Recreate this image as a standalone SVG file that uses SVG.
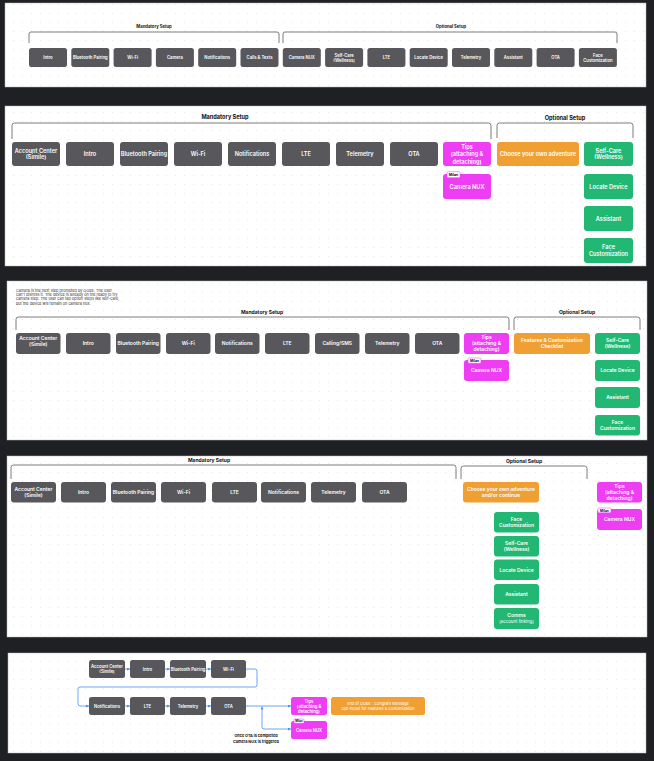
<svg xmlns="http://www.w3.org/2000/svg" width="654" height="761" viewBox="0 0 654 761">
<style>
.panel{fill:#fff;stroke:#b8b8b8;stroke-width:0.5}
.g{fill:#58585c}
.p{fill:#ee3df2}
.o{fill:#f0a033}
.gr{fill:#22b874}
text{font-family:Inter,"Liberation Sans",sans-serif}
.t{fill:#fff;text-anchor:middle;font-weight:600}
.h{fill:#111;text-anchor:middle;font-weight:700}
.br{fill:none;stroke:#5a5a5a;stroke-width:0.8}
.tag{fill:#fff;stroke:#ee3df2;stroke-width:0.5}
.tagt{fill:#111;font-weight:700;text-anchor:middle}
.s1{font-size:4.2px}.s2{font-size:5.6px}.s3{font-size:5px}.s4{font-size:5px}.s5{font-size:4.2px}
.c{fill:none;stroke:#4a90f0;stroke-width:0.8}
</style>
<defs>
<pattern id="dots" width="9" height="9" patternUnits="userSpaceOnUse"><circle cx="4.5" cy="4.5" r="0.45" fill="#cdcdcd"/></pattern>
<marker id="ar" viewBox="0 0 6 6" refX="6" refY="3" markerWidth="3" markerHeight="3" markerUnits="userSpaceOnUse" orient="auto-start-reverse"><path d="M0,0 L6,3 L0,6 Z" fill="#4a90f0"/></marker>
</defs>
<rect width="654" height="761" fill="#1f2024"/>
<g id="panels">
<rect class="panel" x="5" y="3" width="641" height="84"/><rect x="5" y="3" width="641" height="84" fill="url(#dots)"/>
<rect class="panel" x="5" y="106" width="641" height="160"/><rect x="5" y="106" width="641" height="160" fill="url(#dots)"/>
<rect class="panel" x="7" y="281" width="640" height="159"/><rect x="7" y="281" width="640" height="159" fill="url(#dots)"/>
<rect class="panel" x="7" y="456" width="640" height="181"/><rect x="7" y="456" width="640" height="181" fill="url(#dots)"/>
<rect class="panel" x="8" y="653" width="638" height="100"/><rect x="8" y="653" width="638" height="100" fill="url(#dots)"/>
</g>

<!-- Panel 1 -->
<g id="p1-brackets">
<path class="br" d="M29,43 V34 Q29,32 31,32 H277 Q279,32 279,34 V43"/>
<path class="br" d="M283,43 V34 Q283,32 285,32 H615 Q617,32 617,34 V43"/>
<text class="h s1" x="154" y="27.5">Mandatory Setup</text>
<text class="h s1" x="451" y="27.5">Optional Setup</text>
</g>
<g id="p1-intro"><rect class="g" x="29" y="48" width="38" height="19" rx="2.5"/><text class="t s1" x="48" y="59">Intro</text></g>
<g id="p1-bt"><rect class="g" x="71.3" y="48" width="38" height="19" rx="2.5"/><text class="t s1" x="90.3" y="59">Bluetooth Pairing</text></g>
<g id="p1-wifi"><rect class="g" x="113.6" y="48" width="38" height="19" rx="2.5"/><text class="t s1" x="132.6" y="59">Wi-Fi</text></g>
<g id="p1-camera"><rect class="g" x="155.9" y="48" width="38" height="19" rx="2.5"/><text class="t s1" x="174.9" y="59">Camera</text></g>
<g id="p1-notif"><rect class="g" x="198.2" y="48" width="38" height="19" rx="2.5"/><text class="t s1" x="217.2" y="59">Notifications</text></g>
<g id="p1-calls"><rect class="g" x="240.5" y="48" width="38" height="19" rx="2.5"/><text class="t s1" x="259.5" y="59">Calls &amp; Texts</text></g>
<g id="p1-camnux"><rect class="g" x="282.8" y="48" width="38" height="19" rx="2.5"/><text class="t s1" x="301.8" y="59">Camera NUX</text></g>
<g id="p1-selfcare"><rect class="g" x="325.1" y="48" width="38" height="19" rx="2.5"/><text class="t s1" x="344.1" y="56.5">Self-Care</text><text class="t s1" x="344.1" y="61.5">(Wellness)</text></g>
<g id="p1-lte"><rect class="g" x="367.4" y="48" width="38" height="19" rx="2.5"/><text class="t s1" x="386.4" y="59">LTE</text></g>
<g id="p1-locate"><rect class="g" x="409.7" y="48" width="38" height="19" rx="2.5"/><text class="t s1" x="428.7" y="59">Locate Device</text></g>
<g id="p1-telemetry"><rect class="g" x="452" y="48" width="38" height="19" rx="2.5"/><text class="t s1" x="471" y="59">Telemetry</text></g>
<g id="p1-assistant"><rect class="g" x="494.3" y="48" width="38" height="19" rx="2.5"/><text class="t s1" x="513.3" y="59">Assistant</text></g>
<g id="p1-ota"><rect class="g" x="536.6" y="48" width="38" height="19" rx="2.5"/><text class="t s1" x="555.6" y="59">OTA</text></g>
<g id="p1-face"><rect class="g" x="578.9" y="48" width="38" height="19" rx="2.5"/><text class="t s1" x="597.9" y="56.5">Face</text><text class="t s1" x="597.9" y="61.5">Customization</text></g>

<!-- Panel 2 -->
<g id="p2-brackets">
<path class="br" d="M12,139 V125.5 Q12,123 14.5,123 H488.5 Q491,123 491,125.5 V139"/>
<path class="br" d="M497,138 V125.5 Q497,123 499.5,123 H630.5 Q633,123 633,125.5 V138"/>
<text class="h s2" x="225" y="119">Mandatory Setup</text>
<text class="h s2" x="565" y="119.5">Optional Setup</text>
</g>
<g id="p2-account"><rect class="g" x="12" y="142" width="48" height="24" rx="3"/><text class="t s2" x="36" y="152.7">Account Center</text><text class="t s2" x="36" y="159.3">(Simile)</text></g>
<g id="p2-intro"><rect class="g" x="66" y="142" width="48" height="24" rx="3"/><text class="t s2" x="90" y="156">Intro</text></g>
<g id="p2-bt"><rect class="g" x="120" y="142" width="48" height="24" rx="3"/><text class="t s2" x="144" y="156">Bluetooth Pairing</text></g>
<g id="p2-wifi"><rect class="g" x="174" y="142" width="48" height="24" rx="3"/><text class="t s2" x="198" y="156">Wi-Fi</text></g>
<g id="p2-notif"><rect class="g" x="228" y="142" width="48" height="24" rx="3"/><text class="t s2" x="252" y="156">Notifications</text></g>
<g id="p2-lte"><rect class="g" x="282" y="142" width="48" height="24" rx="3"/><text class="t s2" x="306" y="156">LTE</text></g>
<g id="p2-telemetry"><rect class="g" x="336" y="142" width="48" height="24" rx="3"/><text class="t s2" x="360" y="156">Telemetry</text></g>
<g id="p2-ota"><rect class="g" x="390" y="142" width="48" height="24" rx="3"/><text class="t s2" x="414" y="156">OTA</text></g>
<g id="p2-tips"><rect class="p" x="443" y="142" width="48" height="24" rx="3"/><text class="t s2" x="467" y="149.3">Tips</text><text class="t s2" x="467" y="156.3">(attaching &amp;</text><text class="t s2" x="467" y="163.5">detaching)</text></g>
<g id="p2-camnux"><rect class="p" x="443" y="174" width="48" height="25" rx="3"/><text class="t s2" x="467" y="188.5">Camera NUX</text><rect class="tag" x="447" y="171.7" width="13" height="6" rx="1"/><text class="tagt" style="font-size:3.6px" x="453.5" y="176">Milan</text></g>
<g id="p2-choose"><rect class="o" x="497" y="142" width="82" height="24" rx="3"/><text class="t s2" x="538" y="156">Choose your own adventure</text></g>
<g id="p2-selfcare"><rect class="gr" x="584" y="142" width="49" height="24" rx="3"/><text class="t s2" x="608.5" y="152.7">Self-Care</text><text class="t s2" x="608.5" y="159.3">(Wellness)</text></g>
<g id="p2-locate"><rect class="gr" x="584" y="174" width="49" height="25" rx="3"/><text class="t s2" x="608.5" y="188.5">Locate Device</text></g>
<g id="p2-assistant"><rect class="gr" x="584" y="206" width="49" height="25" rx="3"/><text class="t s2" x="608.5" y="220.5">Assistant</text></g>
<g id="p2-face"><rect class="gr" x="584" y="238" width="49" height="25" rx="3"/><text class="t s2" x="608.5" y="249.2">Face</text><text class="t s2" x="608.5" y="255.8">Customization</text></g>

<!-- Panel 3 -->
<g id="p3-note" style="font-size:3.8px;fill:#333">
<text x="16" y="291.5">Camera is the next step prompted by OOBE. The user</text>
<text x="16" y="295.9">can't dismiss it. The device is already on the ready to try</text>
<text x="16" y="300.3">camera step. The user can tap option steps like self-care,</text>
<text x="16" y="304.7">but the device will remain on camera nux.</text>
</g>
<g id="p3-brackets">
<path class="br" d="M16,330 V319.5 Q16,317 18.5,317 H506.5 Q509,317 509,319.5 V330"/>
<path class="br" d="M514,330 V319.5 Q514,317 516.5,317 H637.5 Q640,317 640,319.5 V330"/>
<text class="h s3" x="262" y="313.7">Mandatory Setup</text>
<text class="h s3" x="577" y="313.7">Optional Setup</text>
</g>
<g id="p3-account"><rect class="g" x="16" y="333" width="44.5" height="21" rx="3"/><text class="t s3" x="38.25" y="340.3">Account Center</text><text class="t s3" x="38.25" y="346.3">(Simile)</text></g>
<g id="p3-intro"><rect class="g" x="66" y="333" width="44.5" height="21" rx="3"/><text class="t s3" x="88.25" y="345.3">Intro</text></g>
<g id="p3-bt"><rect class="g" x="116" y="333" width="44.5" height="21" rx="3"/><text class="t s3" x="138.25" y="345.3">Bluetooth Pairing</text></g>
<g id="p3-wifi"><rect class="g" x="166" y="333" width="44.5" height="21" rx="3"/><text class="t s3" x="188.25" y="345.3">Wi-Fi</text></g>
<g id="p3-notif"><rect class="g" x="215" y="333" width="44.5" height="21" rx="3"/><text class="t s3" x="237.25" y="345.3">Notifications</text></g>
<g id="p3-lte"><rect class="g" x="265" y="333" width="44.5" height="21" rx="3"/><text class="t s3" x="287.25" y="345.3">LTE</text></g>
<g id="p3-calling"><rect class="g" x="315" y="333" width="44.5" height="21" rx="3"/><text class="t s3" x="337.25" y="345.3">Calling/SMS</text></g>
<g id="p3-telemetry"><rect class="g" x="365" y="333" width="44.5" height="21" rx="3"/><text class="t s3" x="387.25" y="345.3">Telemetry</text></g>
<g id="p3-ota"><rect class="g" x="415" y="333" width="44.5" height="21" rx="3"/><text class="t s3" x="437.25" y="345.3">OTA</text></g>
<g id="p3-tips"><rect class="p" x="464" y="333" width="45" height="21" rx="3"/><text class="t s3" x="486.5" y="339.3">Tips</text><text class="t s3" x="486.5" y="345.3">(attaching &amp;</text><text class="t s3" x="486.5" y="351.3">detaching)</text></g>
<g id="p3-camnux"><rect class="p" x="464" y="360" width="45" height="21" rx="3"/><text class="t s3" x="486.5" y="372.3">Camera NUX</text><rect class="tag" x="468" y="358" width="13" height="5.2" rx="1"/><text class="tagt" style="font-size:3.4px" x="474.5" y="362">Milan</text></g>
<g id="p3-features"><rect class="o" x="514" y="333" width="76" height="21" rx="3"/><text class="t s3" x="552" y="342.3">Features &amp; Customization</text><text class="t s3" x="552" y="348.3">Checklist</text></g>
<g id="p3-selfcare"><rect class="gr" x="595" y="333" width="45" height="21" rx="3"/><text class="t s3" x="617.5" y="342.3">Self-Care</text><text class="t s3" x="617.5" y="348.3">(Wellness)</text></g>
<g id="p3-locate"><rect class="gr" x="595" y="360" width="45" height="21" rx="3"/><text class="t s3" x="617.5" y="372.3">Locate Device</text></g>
<g id="p3-assistant"><rect class="gr" x="595" y="387" width="45" height="21" rx="3"/><text class="t s3" x="617.5" y="399.3">Assistant</text></g>
<g id="p3-face"><rect class="gr" x="595" y="415" width="45" height="20.5" rx="3"/><text class="t s3" x="617.5" y="423.8">Face</text><text class="t s3" x="617.5" y="429.8">Customization</text></g>

<!-- Panel 4 -->
<g id="p4-brackets">
<path class="br" d="M11,479 V467.5 Q11,465 13.5,465 H453.5 Q456,465 456,467.5 V479"/>
<path class="br" d="M461,479 V468.5 Q461,466 463.5,466 H584.5 Q587,466 587,468.5 V479"/>
<text class="h s4" x="209" y="461.7">Mandatory Setup</text>
<text class="h s4" x="524" y="462.7">Optional Setup</text>
</g>
<g id="p4-account"><rect class="g" x="11" y="482" width="45" height="20.5" rx="3"/><text class="t s4" x="33.5" y="491">Account Center</text><text class="t s4" x="33.5" y="497">(Simile)</text></g>
<g id="p4-intro"><rect class="g" x="61" y="482" width="45" height="20.5" rx="3"/><text class="t s4" x="83.5" y="494">Intro</text></g>
<g id="p4-bt"><rect class="g" x="111" y="482" width="45" height="20.5" rx="3"/><text class="t s4" x="133.5" y="494">Bluetooth Pairing</text></g>
<g id="p4-wifi"><rect class="g" x="161" y="482" width="45" height="20.5" rx="3"/><text class="t s4" x="183.5" y="494">Wi-Fi</text></g>
<g id="p4-lte"><rect class="g" x="212" y="482" width="45" height="20.5" rx="3"/><text class="t s4" x="234.5" y="494">LTE</text></g>
<g id="p4-notif"><rect class="g" x="261" y="482" width="45" height="20.5" rx="3"/><text class="t s4" x="283.5" y="494">Notifications</text></g>
<g id="p4-telemetry"><rect class="g" x="311" y="482" width="45" height="20.5" rx="3"/><text class="t s4" x="333.5" y="494">Telemetry</text></g>
<g id="p4-ota"><rect class="g" x="362" y="482" width="45" height="20.5" rx="3"/><text class="t s4" x="384.5" y="494">OTA</text></g>
<g id="p4-choose"><rect class="o" x="463" y="482" width="76" height="20.5" rx="3"/><text class="t s4" x="501" y="491">Choose your own adventure</text><text class="t s4" x="501" y="497">and/or continue</text></g>
<g id="p4-tips"><rect class="p" x="597" y="482" width="45" height="20.5" rx="3"/><text class="t s4" x="619.5" y="488">Tips</text><text class="t s4" x="619.5" y="494">(attaching &amp;</text><text class="t s4" x="619.5" y="500">detaching)</text></g>
<g id="p4-camnux"><rect class="p" x="597" y="509" width="45" height="21" rx="3"/><text class="t s4" x="619.5" y="521.3">Camera NUX</text><rect class="tag" x="598" y="508" width="13" height="4.8" rx="1"/><text class="tagt" style="font-size:3.3px" x="604.5" y="511.7">Milan</text></g>
<g id="p4-face"><rect class="gr" x="494" y="512" width="45" height="20.5" rx="3"/><text class="t s4" x="516.5" y="521">Face</text><text class="t s4" x="516.5" y="527">Customization</text></g>
<g id="p4-selfcare"><rect class="gr" x="494" y="536" width="45" height="20.5" rx="3"/><text class="t s4" x="516.5" y="545">Self-Care</text><text class="t s4" x="516.5" y="551">(Wellness)</text></g>
<g id="p4-locate"><rect class="gr" x="494" y="559.5" width="45" height="20.5" rx="3"/><text class="t s4" x="516.5" y="571.5">Locate Device</text></g>
<g id="p4-assistant"><rect class="gr" x="494" y="584" width="45" height="20.5" rx="3"/><text class="t s4" x="516.5" y="596">Assistant</text></g>
<g id="p4-comms"><rect class="gr" x="494" y="608" width="45" height="21" rx="3"/><text class="t s4" x="516.5" y="617">Comms</text><text class="t" style="font-size:4.4px;font-weight:400" x="516.5" y="623">(account linking)</text></g>

<!-- Panel 5 -->
<g id="p5-connectors">
<line class="c" x1="125" y1="669" x2="130" y2="669" marker-end="url(#ar)"/>
<line class="c" x1="165" y1="669" x2="170" y2="669" marker-end="url(#ar)"/>
<line class="c" x1="206" y1="669" x2="211" y2="669" marker-end="url(#ar)"/>
<path class="c" d="M246,669 H255 Q257,669 257,671 V685 Q257,687 255,687 H80 Q78,687 78,689 V704 Q78,706 80,706 H89" marker-end="url(#ar)"/>
<line class="c" x1="125" y1="706" x2="130" y2="706" marker-end="url(#ar)"/>
<line class="c" x1="165" y1="706" x2="170" y2="706" marker-end="url(#ar)"/>
<line class="c" x1="206" y1="706" x2="211" y2="706" marker-end="url(#ar)"/>
<line class="c" x1="246" y1="706" x2="291" y2="706" marker-end="url(#ar)"/>
<path class="c" d="M262,706.5 V727 Q262,729 264,729 H291" marker-start="url(#ar)" marker-end="url(#ar)"/>
</g>
<g id="p5-account"><rect class="g" x="89" y="660" width="36" height="18" rx="2.5"/><text class="t s5" x="107" y="668">Account Center</text><text class="t s5" x="107" y="673">(Simile)</text></g>
<g id="p5-intro"><rect class="g" x="130" y="660" width="35" height="18" rx="2.5"/><text class="t s5" x="147.5" y="670.5">Intro</text></g>
<g id="p5-bt"><rect class="g" x="170" y="660" width="36" height="18" rx="2.5"/><text class="t s5" x="188" y="670.5">Bluetooth Pairing</text></g>
<g id="p5-wifi"><rect class="g" x="211" y="660" width="35" height="18" rx="2.5"/><text class="t s5" x="228.5" y="670.5">Wi-Fi</text></g>
<g id="p5-notif"><rect class="g" x="89" y="697" width="36" height="18" rx="2.5"/><text class="t s5" x="107" y="707.5">Notifications</text></g>
<g id="p5-lte"><rect class="g" x="130" y="697" width="35" height="18" rx="2.5"/><text class="t s5" x="147.5" y="707.5">LTE</text></g>
<g id="p5-telemetry"><rect class="g" x="170" y="697" width="36" height="18" rx="2.5"/><text class="t s5" x="188" y="707.5">Telemetry</text></g>
<g id="p5-ota"><rect class="g" x="211" y="697" width="35" height="18" rx="2.5"/><text class="t s5" x="228.5" y="707.5">OTA</text></g>
<g id="p5-tips"><rect class="p" x="291" y="697" width="36" height="18" rx="2.5"/><text class="t s5" x="309" y="702.5">Tips</text><text class="t s5" x="309" y="707.5">(attaching &amp;</text><text class="t s5" x="309" y="712.5">detaching)</text></g>
<g id="p5-camnux"><rect class="p" x="291" y="721" width="36" height="18" rx="2.5"/><text class="t s5" x="309" y="731.5">Camera NUX</text><rect class="tag" x="294" y="719" width="10" height="4.2" rx="0.8"/><text class="tagt" style="font-size:2.8px" x="299" y="722.2">Milan</text></g>
<g id="p5-end"><rect class="o" x="331" y="697" width="94" height="18" rx="2.5"/><text class="t" style="font-size:3.9px;font-weight:400" x="378" y="704.9">End of OOBE : Congrats Message</text><text class="t" style="font-size:3.9px;font-weight:400" x="378" y="709.9">Opt-in/out for Features &amp; Customization</text></g>
<g id="p5-caption"><text class="h" style="font-size:3.8px" x="256" y="737.3">Once OTA is completed</text><text class="h" style="font-size:3.8px" x="256" y="743">Camera NUX is triggered</text></g>
</svg>
